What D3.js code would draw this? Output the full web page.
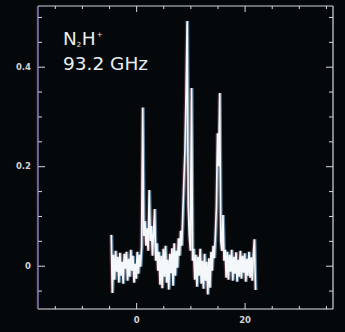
<!DOCTYPE html>
<html>
<head>
<meta charset="utf-8">
<script src="https://cdn.jsdelivr.net/npm/d3@7"></script>
<style>
  html, body { margin: 0; padding: 0; background: #04080b; }
  svg { display: block; }
</style>
</head>
<body>
<svg id="chart" width="345" height="332"></svg>
<script>
// Channel velocities (km/s)
const velocity = [
  -4.6,-4.4,-4.2,-4.0,-3.8,-3.6,-3.4,-3.2,-3.0,-2.8,
  -2.6,-2.4,-2.2,-2.0,-1.8,-1.6,-1.4,-1.2,-1.0,-0.8,
  -0.6,-0.4,-0.2,0.0,0.2,0.4,0.6,0.8,1.0,1.2,
  1.4,1.6,1.8,2.0,2.2,2.4,2.6,2.8,3.0,3.2,
  3.4,3.6,3.8,4.0,4.2,4.4,4.6,4.8,5.0,5.2,
  5.4,5.6,5.8,6.0,6.2,6.4,6.6,6.8,7.0,7.2,
  7.4,7.6,7.8,8.0,8.2,8.4,8.6,8.8,9.0,9.2,
  9.4,9.6,9.8,10.0,10.2,10.4,10.6,10.8,11.0,11.2,
  11.4,11.6,11.8,12.0,12.2,12.4,12.6,12.8,13.0,13.2,
  13.4,13.6,13.8,14.0,14.2,14.4,14.6,14.8,15.0,15.2,
  15.4,15.6,15.8,16.0,16.2,16.4,16.6,16.8,17.0,17.2,
  17.4,17.6,17.8,18.0,18.2,18.4,18.6,18.8,19.0,19.2,
  19.4,19.6,19.8,20.0,20.2,20.4,20.6,20.8,21.0,21.2,
  21.4,21.6,21.8,22.0
];

// Antenna temperature per channel (K)
const intensity = [
  0.062,-0.055,0.022,-0.028,0.030,-0.012,0.018,-0.034,0.026,-0.020,
  0.008,-0.036,0.024,-0.006,0.028,-0.030,0.014,-0.022,0.032,-0.010,
  0.020,-0.034,0.004,-0.026,0.028,-0.016,0.022,-0.002,0.038,0.318,
  0.060,0.090,0.040,0.075,0.030,0.152,0.050,0.080,0.020,0.065,
  0.114,0.010,0.045,-0.010,0.028,-0.038,0.020,-0.045,0.034,-0.022,
  0.040,-0.034,0.012,-0.048,0.024,-0.015,0.035,-0.040,0.045,-0.020,
  0.030,-0.004,0.055,0.020,0.070,0.040,0.105,0.170,0.232,0.347,
  0.492,0.120,0.060,0.030,0.357,0.010,0.034,-0.028,0.022,-0.042,
  0.018,-0.020,0.034,-0.036,0.010,-0.046,0.024,-0.030,0.008,-0.058,
  0.015,-0.044,0.028,-0.010,0.040,0.015,0.060,0.120,0.266,0.200,
  0.347,0.050,0.030,0.102,0.010,0.032,-0.024,0.028,-0.028,0.022,
  -0.012,0.032,-0.030,0.018,-0.016,0.027,-0.032,0.012,-0.022,0.030,
  -0.026,0.020,-0.014,0.025,-0.032,0.014,-0.020,0.028,-0.024,0.017,
  -0.030,0.022,0.053,-0.049
];

const xMajorTicks = [0, 20];
const xTickLabels = ["0", "20"];
const xMinorTicks = [-15, -10, -5, 5, 10, 15, 25, 30, 35];
const yMajorTicks = [0, 0.2, 0.4];
const yTickLabels = ["0", "0.2", "0.4"];
const yMinorTicks = [-0.05, 0.05, 0.1, 0.15, 0.25, 0.3, 0.35, 0.45, 0.5];
const xDomain = [-18.1, 36.3];
const yDomain = [-0.087, 0.522];

const W = 345, H = 332;
const m = { top: 6, right: 12, bottom: 23, left: 38 };

const svg = d3.select("#chart");
svg.append("rect").attr("width", W).attr("height", H).attr("fill", "#04080b");

const defs = svg.append("defs");
defs.append("filter").attr("id", "soft")
  .append("feGaussianBlur").attr("stdDeviation", 0.35);

const x = d3.scaleLinear().domain(xDomain).range([m.left, W - m.right]);
const y = d3.scaleLinear().domain(yDomain).range([H - m.bottom, m.top]);

const tickColor = "#d6dade";
const labelColor = "#cfd3d6";

function styleAxis(g) {
  g.select(".domain").remove();
  g.selectAll(".tick line").attr("stroke", tickColor).attr("stroke-width", 1);
  g.selectAll(".tick text")
    .attr("fill", labelColor)
    .attr("font-family", "DejaVu Sans, sans-serif")
    .attr("font-weight", "bold")
    .attr("font-size", 8.5);
}

// Major ticks (labelled) on bottom and left, pointing inward
svg.append("g").attr("transform", `translate(0,${H - m.bottom})`)
  .call(d3.axisBottom(x).tickValues(xMajorTicks).tickSize(-6).tickPadding(8)
    .tickFormat((d, i) => xTickLabels[i]))
  .call(styleAxis);

svg.append("g").attr("transform", `translate(${m.left},0)`)
  .call(d3.axisLeft(y).tickValues(yMajorTicks).tickSize(-7).tickPadding(7)
    .tickFormat((d, i) => yTickLabels[i]))
  .call(styleAxis);

// Mirrored major ticks on top and right
svg.append("g").attr("transform", `translate(0,${m.top})`)
  .call(d3.axisTop(x).tickValues(xMajorTicks).tickSize(-6).tickFormat(""))
  .call(styleAxis);
svg.append("g").attr("transform", `translate(${W - m.right},0)`)
  .call(d3.axisRight(y).tickValues(yMajorTicks).tickSize(-7).tickFormat(""))
  .call(styleAxis);

// Minor ticks on all four sides
svg.append("g").attr("transform", `translate(0,${H - m.bottom})`)
  .call(d3.axisBottom(x).tickValues(xMinorTicks).tickSize(-3).tickFormat(""))
  .call(styleAxis);
svg.append("g").attr("transform", `translate(0,${m.top})`)
  .call(d3.axisTop(x).tickValues(xMinorTicks).tickSize(-3).tickFormat(""))
  .call(styleAxis);
svg.append("g").attr("transform", `translate(${m.left},0)`)
  .call(d3.axisLeft(y).tickValues(yMinorTicks).tickSize(-4).tickFormat(""))
  .call(styleAxis);
svg.append("g").attr("transform", `translate(${W - m.right},0)`)
  .call(d3.axisRight(y).tickValues(yMinorTicks).tickSize(-4).tickFormat(""))
  .call(styleAxis);

// Plot frame
const x0 = x.range()[0], x1 = x.range()[1];
const yTop = y.range()[1], yBot = y.range()[0];
const frame = svg.append("g").attr("fill", "none").attr("stroke-width", 1.2);
frame.append("line").attr("x1", x0).attr("x2", x1).attr("y1", yTop).attr("y2", yTop).attr("stroke", "#cfd3d6");
frame.append("line").attr("x1", x0).attr("x2", x1).attr("y1", yBot).attr("y2", yBot).attr("stroke", "#e4e8ea");
frame.append("line").attr("x1", x1).attr("x2", x1).attr("y1", yTop).attr("y2", yBot).attr("stroke", "#d4d8db");
frame.append("line").attr("x1", x0 - 0.8).attr("x2", x0 - 0.8).attr("y1", yTop).attr("y2", yBot).attr("stroke", "#7a2e4a").attr("stroke-opacity", 0.6);
frame.append("line").attr("x1", x0).attr("x2", x0).attr("y1", yTop).attr("y2", yBot).attr("stroke", "#8f9ee0");

// Spectrum, channel to channel
const spectrum = velocity.map((v, i) => ({ v, t: intensity[i] }));
const line = d3.line().x(d => x(d.v)).y(d => y(d.t)).curve(d3.curveLinear);

const plot = svg.append("g").attr("filter", "url(#soft)");
plot.append("path").datum(spectrum).attr("d", line)
  .attr("transform", "translate(-1.2,0)")
  .attr("fill", "none").attr("stroke", "#e07890").attr("stroke-opacity", 0.3).attr("stroke-width", 1.7);
plot.append("path").datum(spectrum).attr("d", line)
  .attr("transform", "translate(1.2,0)")
  .attr("fill", "none").attr("stroke", "#8ec6f0").attr("stroke-opacity", 0.6).attr("stroke-width", 1.7);
plot.append("path").datum(spectrum).attr("d", line)
  .attr("fill", "none").attr("stroke", "#f4f8fa").attr("stroke-width", 1.7)
  .attr("stroke-linejoin", "miter").attr("stroke-miterlimit", 2);

// Species and frequency label
const label = svg.append("g").attr("fill", "#e8eef0")
  .attr("font-family", "DejaVu Sans, sans-serif");
const species = label.append("text").attr("x", 63).attr("y", 45).attr("font-size", 18.5);
species.append("tspan").text("N");
species.append("tspan").attr("font-size", 7).attr("dy", 2).text("2");
species.append("tspan").attr("dy", -2).attr("dx", 0.5).text("H");
species.append("tspan").attr("font-size", 7).attr("dy", -8).attr("dx", 1).text("+");
label.append("text").attr("x", 63).attr("y", 70).attr("font-size", 18.5).text("93.2 GHz");
</script>
</body>
</html>
